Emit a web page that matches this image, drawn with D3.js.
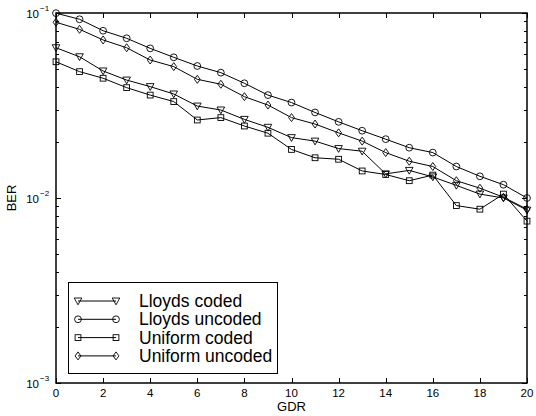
<!DOCTYPE html>
<html>
<head>
<meta charset="utf-8">
<script src="https://cdn.jsdelivr.net/npm/d3@7"></script>
<style>
  body { margin: 0; background: #fff; }
  svg { display: block; }
  text { font-family: 'Liberation Sans', Arial, sans-serif; fill: #000; }
</style>
</head>
<body>
<script>
// data
let gdr = [0, 1, 2, 3, 4, 5, 6, 7, 8, 9, 10, 11, 12, 13, 14, 15, 16, 17, 18, 19, 20]
let lloydsCoded = [0.0649, 0.0580, 0.0486, 0.0434, 0.0400, 0.0365, 0.0314, 0.0299, 0.0266, 0.0241, 0.0212, 0.0203, 0.0185, 0.0179, 0.0135, 0.0141, 0.0130, 0.0117, 0.0105, 0.0100, 0.0086]
let lloydsUncoded = [0.0998, 0.0925, 0.0802, 0.0730, 0.0644, 0.0576, 0.0517, 0.0476, 0.0417, 0.0360, 0.0328, 0.0290, 0.0258, 0.0231, 0.0208, 0.0187, 0.0176, 0.0148, 0.0131, 0.0118, 0.0100]
let uniformCoded = [0.0545, 0.0482, 0.0444, 0.0395, 0.0360, 0.0332, 0.0264, 0.0272, 0.0245, 0.0224, 0.0183, 0.0165, 0.0162, 0.0140, 0.0134, 0.0124, 0.0133, 0.0091, 0.0087, 0.0105, 0.0075]
let uniformUncoded = [0.0891, 0.0816, 0.0715, 0.0649, 0.0557, 0.0513, 0.0438, 0.0412, 0.0353, 0.0318, 0.0272, 0.0251, 0.0225, 0.0203, 0.0176, 0.0158, 0.0148, 0.0124, 0.0113, 0.0101, 0.0087]
let xTicks = [0, 2, 4, 6, 8, 10, 12, 14, 16, 18, 20]
let yDecades = [-3, -2, -1]
let seriesNames = ['Lloyds coded', 'Lloyds uncoded', 'Uniform coded', 'Uniform uncoded']
let seriesMarkers = ['triangle', 'circle', 'square', 'diamond']

function buildChart () {
  let width = 536
  let height = 416
  let margin = { left: 56, right: 9, top: 13, bottom: 33 }

  let svg = d3.select('body').append('svg')
    .attr('width', width)
    .attr('height', height)

  let x = d3.scaleLinear().domain([0, 20]).range([margin.left, width - margin.right])
  let y = d3.scaleLog().domain([1e-3, 1e-1]).range([height - margin.bottom, margin.top])

  let x0 = x.range()[0], x1 = x.range()[1]
  let y0 = y.range()[0], y1 = y.range()[1]

  // ticks (matlab style, pointing inward, on all four sides)
  let ticks = svg.append('g').attr('stroke', '#000').attr('stroke-width', 1)
  xTicks.forEach(function (t) {
    let px = Math.round(x(t)) + 0.5
    ticks.append('line').attr('x1', px).attr('x2', px).attr('y1', y0).attr('y2', y0 - 5)
    ticks.append('line').attr('x1', px).attr('x2', px).attr('y1', y1).attr('y2', y1 + 5)
  })
  yDecades.forEach(function (d) {
    for (let m = 1; m < 10; m++) {
      let v = m * Math.pow(10, d)
      if (v > 0.1 + 1e-9) continue
      let py = Math.round(y(v)) + 0.5
      let len = m === 1 ? 5 : 3
      ticks.append('line').attr('x1', x0).attr('x2', x0 + len).attr('y1', py).attr('y2', py)
      ticks.append('line').attr('x1', x1).attr('x2', x1 - len).attr('y1', py).attr('y2', py)
    }
  })

  // tick labels
  svg.append('g').selectAll('text')
    .data(xTicks)
    .enter()
    .append('text')
    .attr('x', function (d) { return x(d) })
    .attr('y', y0 + 14)
    .attr('text-anchor', 'middle')
    .attr('font-size', 11.5)
    .text(function (d) { return d })

  let yl = svg.append('g').selectAll('g')
    .data(yDecades)
    .enter()
    .append('g')
  yl.append('text')
    .attr('x', 39)
    .attr('y', function (d) { return y(Math.pow(10, d)) + 5 })
    .attr('text-anchor', 'end')
    .attr('font-size', 11.5)
    .text('10')
  yl.append('text')
    .attr('x', 40)
    .attr('y', function (d) { return y(Math.pow(10, d)) - 2 })
    .attr('font-size', 8)
    .text(function (d) { return '\u2212' + (-d) })

  // axis labels
  svg.append('text')
    .attr('x', (x0 + x1) / 2)
    .attr('y', 411)
    .attr('text-anchor', 'middle')
    .attr('font-size', 13)
    .text('GDR')
  svg.append('text')
    .attr('transform', 'translate(16,' + ((y0 + y1) / 2) + ') rotate(-90)')
    .attr('text-anchor', 'middle')
    .attr('font-size', 13)
    .text('BER')

  // series
  let allSeries = [lloydsCoded, lloydsUncoded, uniformCoded, uniformUncoded]
  let line = d3.line()
    .x(function (d, i) { return x(gdr[i]) })
    .y(function (d) { return y(d) })

  function marker (g, type, cx, cy) {
    if (type === 'circle') {
      g.append('circle').attr('cx', cx).attr('cy', cy).attr('r', 3.4)
    } else if (type === 'square') {
      g.append('rect').attr('x', cx - 2.9).attr('y', cy - 2.9).attr('width', 5.8).attr('height', 5.8)
    } else if (type === 'triangle') {
      g.append('path').attr('d', 'M' + (cx - 3.8) + ',' + (cy - 3) + 'L' + (cx + 3.8) + ',' + (cy - 3) + 'L' + cx + ',' + (cy + 3.8) + 'Z')
    } else {
      g.append('path').attr('d', 'M' + cx + ',' + (cy - 4) + 'L' + (cx + 2.9) + ',' + cy + 'L' + cx + ',' + (cy + 4) + 'L' + (cx - 2.9) + ',' + cy + 'Z')
    }
  }

  allSeries.forEach(function (s, k) {
    svg.append('path')
      .attr('d', line(s))
      .attr('fill', 'none')
      .attr('stroke', '#000')
      .attr('stroke-width', 1)
    let g = svg.append('g').attr('fill', 'none').attr('stroke', '#000').attr('stroke-width', 0.9)
    s.forEach(function (v, i) {
      marker(g, seriesMarkers[k], x(gdr[i]), y(v))
    })
  })

  // axes box
  svg.append('rect')
    .attr('x', x0).attr('y', y1)
    .attr('width', x1 - x0).attr('height', y0 - y1)
    .attr('fill', 'none')
    .attr('stroke', '#000')
    .attr('stroke-width', 1.5)

  // legend
  let lg = svg.append('g')
  lg.append('rect')
    .attr('x', 68.5).attr('y', 282.5)
    .attr('width', 209).attr('height', 91)
    .attr('fill', '#fff')
    .attr('stroke', '#000')
    .attr('stroke-width', 1)
  seriesNames.forEach(function (name, k) {
    let ry = 301 + k * 18.3
    lg.append('line')
      .attr('x1', 78).attr('x2', 116)
      .attr('y1', ry).attr('y2', ry)
      .attr('stroke', '#000')
    let mg = lg.append('g').attr('fill', 'none').attr('stroke', '#000').attr('stroke-width', 0.9)
    marker(mg, seriesMarkers[k], 78, ry)
    marker(mg, seriesMarkers[k], 116, ry)
    lg.append('text')
      .attr('x', 139)
      .attr('y', ry + 6)
      .attr('font-size', 17.5)
      .text(name)
  })
}

buildChart()
</script>
</body>
</html>
